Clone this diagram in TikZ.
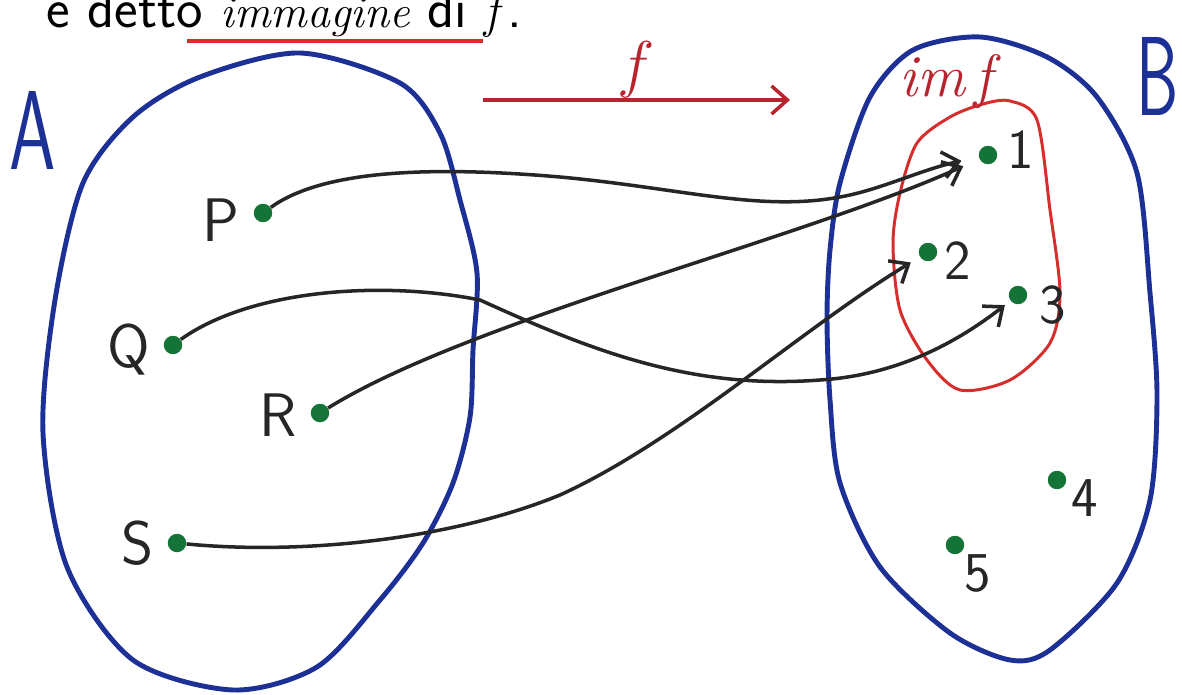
\RequirePackage{fix-cm}
\documentclass[tikz,border=0pt]{standalone}
\usetikzlibrary{arrows.meta}
\definecolor{inkblue}{RGB}{28,48,150}
\definecolor{inkred}{RGB}{214,45,45}
\definecolor{fred}{RGB}{185,35,45}
\definecolor{inkblack}{RGB}{38,38,38}
\definecolor{dotgreen}{RGB}{20,115,55}

\begin{document}
\begin{tikzpicture}[x=0.02cm,y=-0.02cm,
  dot/.style={circle,fill=dotgreen,inner sep=0pt,minimum size=10.5pt},
  lab/.style={text=inkblack,font=\sffamily\fontsize{35}{35}\selectfont},
  num/.style={text=inkblack,font=\sffamily\fontsize{32}{32}\selectfont},
  setname/.style={text=inkblue,font=\sffamily\fontsize{64}{64}\selectfont},
  map/.style={draw=inkblack,line width=2pt,-{Straight Barb[length=9pt,width=15pt]}}]
\useasboundingbox (0,0) rectangle (1182,695);

% caption
\node[anchor=base west,inner sep=0pt,font=\sffamily\fontsize{32}{32}\selectfont] (caption) at (46,28) {e detto {\rmfamily\itshape\fontsize{26}{26}\selectfont immagine} di {\rmfamily\itshape\fontsize{28}{28}\selectfont f\,}.};
\draw[inkred,line width=2.2pt] (187,41) -- (483,41);

% sets A and B
\draw[inkblue,line width=2.8pt] plot[smooth cycle] coordinates {(300,53) (400,83) (440,133) (460,200) (477,273) (473,350) (470,417) (453,483) (423,543) (380,600) (317,667) (233,690) (133,660) (67,567) (43,433) (55,300) (83,183) (133,117) (200,77)};
\draw[inkblue,line width=2.8pt] plot[smooth cycle] coordinates {(980,37) (1047,57) (1097,97) (1137,173) (1150,293) (1157,395) (1150,500) (1117,583) (1050,650) (1010,660) (950,633) (880,567) (840,483) (830,400) (827,317) (830,250) (840,183) (870,97) (913,50)};
\node[setname] (seta) at (33,130) {\scalebox{0.66}[1]{A}};
\node[setname] (setb) at (1158,76) {\scalebox{0.6}[1]{B}};

% image of f
\draw[inkred,line width=1.7pt] plot[smooth cycle] coordinates {(1010,101) (1037,120) (1050,210) (1060,293) (1050,343) (1010,380) (960,390) (927,360) (900,310) (893,243) (900,193) (917,143) (950,117) (983,104)};
\node[anchor=base,text=fred,font=\fontsize{34}{34}\selectfont\itshape] (imf) at (946,97) {im\,f};

% the map f
\draw[fred,line width=2pt,-{Straight Barb[length=9pt,width=16pt]}] (483,100) -- (790,100) node[midway,above,inner sep=0pt,font=\fontsize{36}{36}\selectfont] (fname) {$f$};

% points of A
\node[dot] (p) at (263,213) {};
\node[lab] (lp) at (221,220) {P};
\node[dot] (q) at (173,345) {};
\node[lab] (lq) at (129,350) {Q};
\node[dot] (r) at (320,413) {};
\node[lab] (lr) at (278,415) {R};
\node[dot] (s) at (177,543) {};
\node[lab] (ls) at (138,543) {S};

% points of B
\node[dot] (one) at (988,155) {};
\node[num] (l1) at (1021,150) {1};
\node[dot] (two) at (928,252) {};
\node[num] (l2) at (958,261) {2};
\node[dot] (three) at (1018,295) {};
\node[num] (l3) at (1053,305) {3};
\node[dot] (four) at (1057,480) {};
\node[num] (l4) at (1085,498) {4};
\node[dot] (five) at (955,545) {};
\node[num] (l5) at (978,574) {5};

% arrows
\draw[map,shorten >=10pt] (p) .. controls (320,172) and (420,165) .. (560,177) .. controls (680,188) and (760,212) .. (840,197) .. controls (880,190) and (920,170) .. (one);
\draw[map,shorten >=10pt] (r) .. controls (470,320) and (800,240) .. (one);
\draw[map,shorten >=4pt] (q) .. controls (250,290) and (380,280) .. (480,300) .. controls (590,350) and (690,390) .. (820,380) .. controls (900,375) and (960,340) .. (three);
\draw[map,shorten >=6pt] (s) .. controls (300,555) and (450,540) .. (560,495) .. controls (680,440) and (800,330) .. (two);
\end{tikzpicture}
\end{document}
